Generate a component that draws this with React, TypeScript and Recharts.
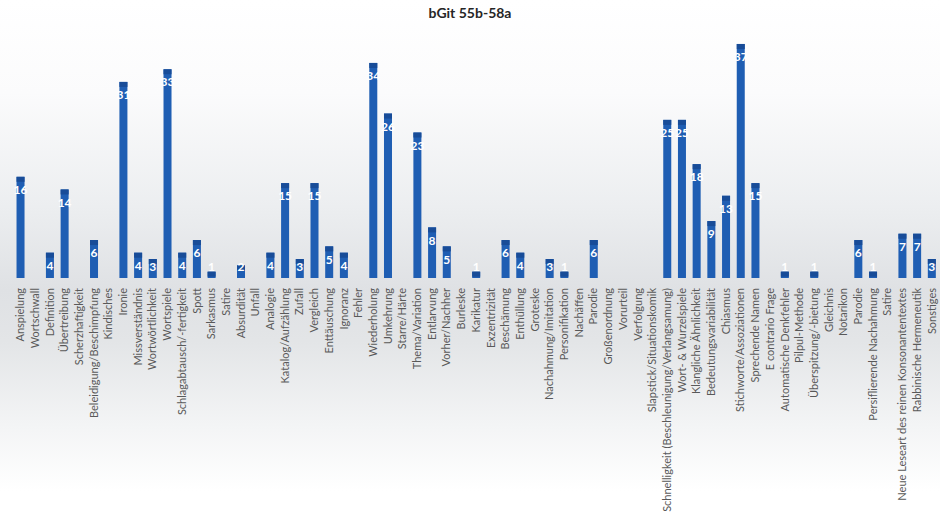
import { BarChart, Bar, XAxis, YAxis, LabelList } from 'recharts';

const categories = [
  'Anspielung', 'Wortschwall', 'Definition', 'Übertreibung', 'Scherzhaftigkeit',
  'Beleidigung/Beschimpfung', 'Kindisches', 'Ironie', 'Missverständnis', 'Wortwörtlichkeit',
  'Wortspiele', 'Schlagabtausch/-fertigkeit', 'Spott', 'Sarkasmus', 'Satire',
  'Absurdität', 'Unfall', 'Analogie', 'Katalog/Aufzählung', 'Zufall',
  'Vergleich', 'Enttäuschung', 'Ignoranz', 'Fehler', 'Wiederholung',
  'Umkehrung', 'Starre/Härte', 'Thema/Variation', 'Entlarvung', 'Vorher/Nachher',
  'Burleske', 'Karikatur', 'Exzentrizität', 'Beschämung', 'Enthüllung',
  'Groteske', 'Nachahmung/Imitation', 'Personifikation', 'Nachäffen', 'Parodie',
  'Großenordnung', 'Vorurteil', 'Verfolgung', 'Slapstick/Situationskomik',
  'Schnelligkeit (Beschleunigung/Verlangsamung)', 'Wort- & Wurzelspiele',
  'Klangliche Ähnlichkeit', 'Bedeutungsvariabilität', 'Chiasmus', 'Stichworte/Assoziationen',
  'Sprechende Namen', 'E contrario Frage', 'Automatische Denkfehler', 'Pilpul-Methode',
  'Überspitzung/-bietung', 'Gleichnis', 'Notarikon', 'Parodie', 'Persiflierende Nachahmung',
  'Satire', 'Neue Leseart des reinen Konsonantentextes', 'Rabbinische Hermeneutik', 'Sonstiges',
];

const counts = [
  16, 0, 4, 14, 0,
  6, 0, 31, 4, 3,
  33, 4, 6, 1, 0,
  2, 0, 4, 15, 3,
  15, 5, 4, 0, 34,
  26, 0, 23, 8, 5,
  0, 1, 0, 6, 4,
  0, 3, 1, 0, 6,
  0, 0, 0, 0,
  25, 25,
  18, 9, 13, 37,
  15, 0, 1, 0,
  1, 0, 0, 6, 1,
  0, 7, 7, 3,
];

const data = categories.map((name, i) => ({ key: i, name, count: counts[i] }));

const BAR = '#1f5eb3';
const BAR_TOP = '#184c98';
const FONT = 'Lato, "Noto Sans", sans-serif';

function BarShape(props: any) {
  const { x, y, width, height } = props;
  if (!height || height <= 0) return null;
  const cap = Math.min(5, height);
  return (
    <g>
      <rect x={x} y={y} width={width} height={height} fill={BAR} />
      <rect x={x} y={y} width={width} height={cap} fill={BAR_TOP} />
    </g>
  );
}

// value sits just under the bar top, but never lower than a fixed distance above the baseline
function ValueLabel(props: any) {
  const { x, y, width, height, value } = props;
  if (!value) return null;
  const cy = Math.min(y + 13, y + height - 11);
  return (
    <text
      x={x + width / 2}
      y={cy}
      dy="0.35em"
      textAnchor="middle"
      fill="#ffffff"
      fontFamily={FONT}
      fontWeight={700}
      fontSize={12}
    >
      {value}
    </text>
  );
}

function CategoryTick(props: any) {
  const { x, y, payload } = props;
  const label = categories[payload.value] ?? '';
  return (
    <text
      transform={`translate(${x},${y + 2}) rotate(-90)`}
      textAnchor="end"
      dy="0.35em"
      fill="#595959"
      fontFamily={FONT}
      fontSize={11}
    >
      {label}
    </text>
  );
}

export default function App() {
  return (
    <div
      style={{
        position: 'relative',
        width: 940,
        height: 517,
        background:
          'linear-gradient(180deg, #ffffff 0%, #fbfbfc 18%, #eceef0 40%, #dfe1e4 56%, #e3e5e7 66%, #f3f4f5 82%, #ffffff 95%)',
      }}
    >
      <style>{'body{margin:0}'}</style>
      <div
        style={{
          position: 'absolute',
          top: 4,
          left: 0,
          width: 940,
          textAlign: 'center',
          fontFamily: FONT,
          fontWeight: 700,
          fontSize: 14,
          color: '#262626',
        }}
      >
        bGit 55b-58a
      </div>
      <BarChart
        width={940}
        height={517}
        data={data}
        margin={{ top: 25, right: 1, bottom: 0, left: 13 }}
        barCategoryGap="24%"
      >
        <XAxis
          dataKey="key"
          interval={0}
          height={239}
          axisLine={false}
          tickLine={false}
          tick={<CategoryTick />}
        />
        <YAxis hide domain={[0, 40]} />
        <Bar dataKey="count" shape={<BarShape />} isAnimationActive={false}>
          <LabelList dataKey="count" content={<ValueLabel />} />
        </Bar>
      </BarChart>
    </div>
  );
}
